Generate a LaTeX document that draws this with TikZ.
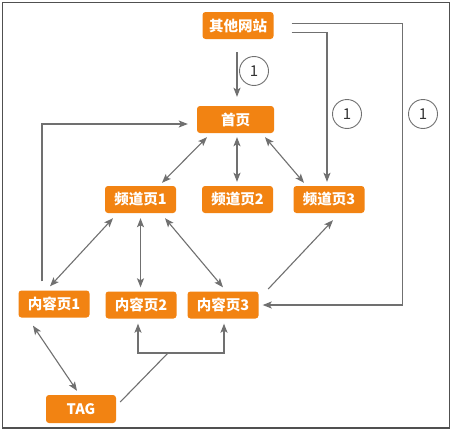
\documentclass[tikz,border=0pt]{standalone}
\usepackage{fontspec}
\newfontfamily\cjk{Noto Sans CJK SC}
\usetikzlibrary{arrows.meta,calc}
\definecolor{boxor}{RGB}{242,131,18}
\definecolor{lngray}{RGB}{112,112,112}
\definecolor{frgray}{RGB}{80,80,80}
\tikzset{
  pg/.style={fill=boxor,text=white,rounded corners=3pt,minimum height=27pt,minimum width=71pt,inner sep=0pt,font=\cjk\bfseries\fontsize{14.5}{15}\selectfont},
  numc/.style={circle,draw=lngray,line width=0.9pt,minimum size=29pt,inner sep=0pt,font=\cjk\fontsize{15}{16}\selectfont,text=black!80},
  ln/.style={draw=lngray,line width=1.1pt},
  arr/.style={ln,-{Stealth[length=9pt,width=7pt,inset=2pt]}},
  darr/.style={ln,{Stealth[length=9pt,width=7pt,inset=2pt]}-{Stealth[length=9pt,width=7pt,inset=2pt]}}
}
\begin{document}
\begin{tikzpicture}[x=1pt,y=-1pt]
\useasboundingbox (0,0) rectangle (452,431);
\fill[white] (0,0) rectangle (452,431);
\draw[frgray,line width=1.6pt] (2.5,2.5) rectangle (449.5,428);
% nodes
\node[pg] (other) at (238,25.5) {其他网站};
\node[pg,minimum width=77pt] (home) at (235.5,119.5) {首页};
\node[pg] (ch1) at (140.5,199.5) {频道页1};
\node[pg] (ch2) at (237.5,199.5) {频道页2};
\node[pg] (ch3) at (329,199.5) {频道页3};
\node[pg] (ct1) at (54,304) {内容页1};
\node[pg] (ct2) at (141,305) {内容页2};
\node[pg] (ct3) at (223,305) {内容页3};
\node[pg,minimum width=70pt,minimum height=28pt] (tag) at (81,409) {TAG};
% circled labels
\node[numc] (c1) at (254,71) {1};
\node[numc] (c2) at (347,114) {1};
\node[numc] (c3) at (423,114) {1};
% connectors
\draw[arr] ($(other.south)+(-1,13)$) -- ($(home.north)+(1.5,-9)$);
\draw[arr] ($(other.east)+(18,7)$) -| ($(ch3.north)+(-2,-4)$);
\draw[arr] ($(other.east)+(18,-2)$) -- ++(111,0) |- ($(ct3.east)+(4,0)$);
\draw[arr] ($(ct1.north)+(-12,-9)$) |- ($(home.west)+(-9,4.5)$);
\draw[darr] ($(home.south)+(-28.5,4)$) -- ($(ch1.north)+(21.5,-3)$);
\draw[darr] ($(home.south)+(1.5,4)$) -- ($(ch2.north)+(-0.5,-4)$);
\draw[darr] ($(home.south)+(29.5,4)$) -- ($(ch3.north)+(-25,-3)$);
\draw[darr] ($(ch1.south)+(-27.5,5)$) -- ($(ct1.north)+(-4,-4)$);
\draw[darr] ($(ch1.south)+(0,5)$) -- ($(ct2.north)+(-0.5,-4)$);
\draw[darr] ($(ch1.south)+(24.5,5)$) -- ($(ct3.north)+(0,-4)$);
\draw[arr] ($(ct3.east)+(9.5,-16)$) -- ($(ch3.south)+(4,7)$);
\draw[darr] ($(ct1.south)+(-21,8)$) -- ($(tag.north)+(-4,-4)$);
\coordinate (bj) at (168,353);
\draw[ln] ($(tag.east)+(4,-7)$) -- (bj);
\draw[arr] (bj) -| ($(ct2.south)+(-3,5)$);
\draw[arr] (bj) -| ($(ct3.south)+(1,5)$);
\end{tikzpicture}
\end{document}
